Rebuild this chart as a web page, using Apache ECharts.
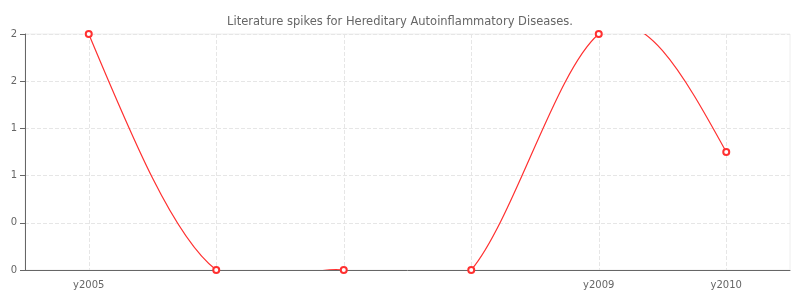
<!DOCTYPE html>
<html>
<head>
<meta charset="utf-8">
<script src="https://cdn.jsdelivr.net/npm/echarts@6/dist/echarts.min.js"></script>
<style>
html, body { margin: 0; padding: 0; background: #fff; }
#main { width: 800px; height: 300px; }
</style>
</head>
<body>
<div id="main"></div>
<script>
// x 轴类目（中间几年没有标签）
var years = ['y2005', '', '', '', 'y2009', 'y2010'];
// 每年的文献数量
var counts = [2, 0, 0, 0, 2, 1];
var yTicks = { min: 0, max: 2, interval: 0.4 };
var lineColor = '#ff3030';

// 自然三次样条：求每个点的斜率（x 方向步长为 1 个类目）
function splineSlopes(y) {
    var n = y.length;
    var M = new Array(n).fill(0);
    if (n > 2) {
        // 三对角方程 M[i-1] + 4M[i] + M[i+1] = 6(y[i-1] - 2y[i] + y[i+1])
        var m = n - 2, a = [], b = [], c = [], d = [];
        for (var i = 0; i < m; i++) {
            a.push(1); b.push(4); c.push(1);
            d.push(6 * (y[i] - 2 * y[i + 1] + y[i + 2]));
        }
        for (var i = 1; i < m; i++) {
            var w = a[i] / b[i - 1];
            b[i] -= w * c[i - 1];
            d[i] -= w * d[i - 1];
        }
        var x = new Array(m);
        x[m - 1] = d[m - 1] / b[m - 1];
        for (var i = m - 2; i >= 0; i--) x[i] = (d[i] - c[i] * x[i + 1]) / b[i];
        for (var i = 0; i < m; i++) M[i + 1] = x[i];
    }
    var s = [];
    for (var i = 0; i < n - 1; i++) s.push((y[i + 1] - y[i]) - (2 * M[i] + M[i + 1]) / 6);
    s.push((y[n - 1] - y[n - 2]) + (M[n - 2] + 2 * M[n - 1]) / 6);
    return s;
}
var slopes = splineSlopes(counts);

var myChart = echarts.init(document.getElementById('main'));
myChart.setOption({
    title: {
        text: 'Literature spikes for Hereditary Autoinflammatory Diseases.',
        left: 'center',
        top: 11,
        textStyle: { fontSize: 11.5, fontWeight: 'normal', color: '#666', fontFamily: 'DejaVu Sans' }
    },
    grid: {
        left: 25, right: 10, top: 34, bottom: 30,
        show: true, borderColor: '#eee', borderWidth: 1
    },
    xAxis: {
        type: 'category',
        data: years,
        axisLine: { lineStyle: { color: '#666' } },
        axisTick: { alignWithLabel: true, lineStyle: { color: '#666' } },
        axisLabel: { color: '#666', fontSize: 10, fontFamily: 'DejaVu Sans', interval: 0, margin: 10 },
        splitLine: { show: true, alignWithLabel: true, lineStyle: { color: '#e6e6e6', type: 'dashed' } }
    },
    yAxis: {
        type: 'value',
        min: yTicks.min,
        max: yTicks.max,
        interval: yTicks.interval,
        axisLine: { show: true, lineStyle: { color: '#666' } },
        axisTick: { show: true, lineStyle: { color: '#666' } },
        axisLabel: {
            color: '#666', fontSize: 10, fontFamily: 'DejaVu Sans',
            formatter: function (v) { return v.toFixed(0); }
        },
        splitLine: { lineStyle: { color: '#e6e6e6', type: 'dashed' } }
    },
    series: [{
        // 平滑曲线，每个数据项画到下一个点的一段
        type: 'custom',
        clip: true,
        silent: true,
        data: counts.map(function (v, i) { return [i, v]; }),
        renderItem: function (params, api) {
            var i = params.dataIndex;
            if (i >= counts.length - 1) return null;
            var p0 = api.coord([i, counts[i]]);
            var p1 = api.coord([i + 1, counts[i + 1]]);
            var dx = (p1[0] - p0[0]) / 3;
            return {
                type: 'bezierCurve',
                shape: {
                    x1: p0[0], y1: p0[1],
                    x2: p1[0], y2: p1[1],
                    cpx1: p0[0] + dx, cpy1: api.coord([i, counts[i] + slopes[i] / 3])[1],
                    cpx2: p1[0] - dx, cpy2: api.coord([i + 1, counts[i + 1] - slopes[i + 1] / 3])[1]
                },
                style: { stroke: lineColor, fill: null, lineWidth: 1.2 }
            };
        }
    }, {
        // 数据点
        type: 'line',
        data: counts,
        symbol: 'emptyCircle',
        symbolSize: 6,
        lineStyle: { opacity: 0 },
        itemStyle: { color: lineColor, borderWidth: 1 },
        z: 3
    }]
});
</script>
</body>
</html>
